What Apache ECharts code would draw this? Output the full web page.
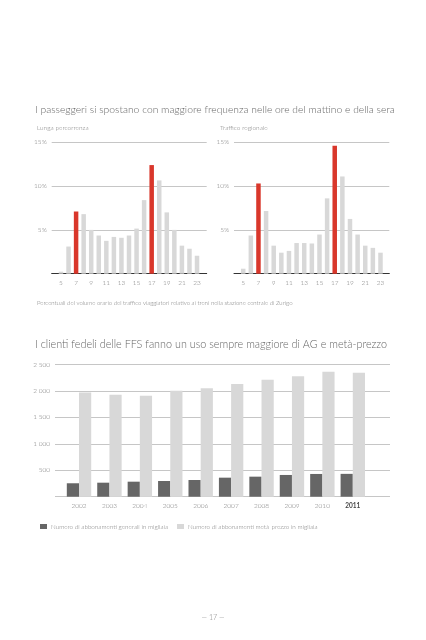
<!DOCTYPE html>
<html>
<head>
<meta charset="utf-8">
<script src="https://cdn.jsdelivr.net/npm/echarts@6/dist/echarts.min.js"></script>
<style>
html,body{margin:0;padding:0;background:#fff;}
#c{width:426px;height:640px;}
</style>
</head>
<body>
<div id="c"></div>
<script>
// ---- data ----
var hours = ['5','6','7','8','9','10','11','12','13','14','15','16','17','18','19','20','21','22','23'];
var highlightHours = ['7','17'];
var lungaPercorrenza = [0.23,3.1,7.1,6.8,5.0,4.36,3.75,4.2,4.1,4.36,5.15,8.4,12.4,10.65,7.0,5.0,3.2,2.85,2.05];
var trafficoRegionale = [0.57,4.36,10.3,7.16,3.2,2.4,2.6,3.5,3.5,3.45,4.47,8.6,14.6,11.1,6.25,4.47,3.2,2.95,2.4];
var pctTicks = [0,5,10,15];
var years = ['2002','2003','2004','2005','2006','2007','2008','2009','2010','2011'];
var abbGenerali = [254,265,284,297,316,360,379,411,430,432];
var abbMetaPrezzo = [1970,1926,1907,2002,2053,2129,2210,2280,2362,2343];
var countTicks = [0,500,1000,1500,2000,2500];

var FONT = 'Lato';
var TXT = '#7d7d7d';
var RED = '#d9372b';
var LIGHT = '#d8d8d8';
var DARK = '#666666';
var GRIDLINE = '#b8b8b8';

function colored(vals) {
  return vals.map(function (v, i) {
    var hi = highlightHours.indexOf(hours[i]) >= 0;
    return { value: v, itemStyle: { color: hi ? RED : LIGHT } };
  });
}

var chart = echarts.init(document.getElementById('c'), null, { renderer: 'canvas' });

var topY = { top: 142.3, bottom: 640 - 273.7 };
var botY = { top: 364.5, bottom: 640 - 496.7 };

function frameY(gridIndex, max, step, fmt) {
  return {
    type: 'value', gridIndex: gridIndex, min: 0, max: max, interval: step,
    axisLine: { show: false }, axisTick: { show: false },
    splitLine: { show: true, lineStyle: { color: GRIDLINE, width: 0.8 } },
    axisLabel: { show: true, color: TXT, fontFamily: FONT, fontWeight: 300, fontSize: 6.5, margin: 5,
      formatter: fmt }
  };
}
function hiddenY(gridIndex, max, step) {
  return { type: 'value', gridIndex: gridIndex, min: 0, max: max, interval: step, show: false };
}
function frameX(gridIndex, showLine) {
  return {
    type: 'value', gridIndex: gridIndex, min: 0, max: 1,
    axisLine: { show: showLine, onZero: false, lineStyle: { color: '#333', width: 1 } },
    axisTick: { show: false }, axisLabel: { show: false }, splitLine: { show: false }
  };
}
function catX(gridIndex, cats, opts) {
  return Object.assign({
    type: 'category', gridIndex: gridIndex, data: cats, boundaryGap: true,
    axisLine: { show: false }, axisTick: { show: false }, splitLine: { show: false }
  }, opts);
}

var pctFmt = function (v) { return v === 0 ? '' : v + '%'; };
var numFmt = function (v) { return v === 0 ? '' : (v >= 1000 ? String(v).replace(/(\d)(\d{3})$/, '$1 $2') : String(v)); };

var option = {
  backgroundColor: '#fff',
  animation: false,
  textStyle: { fontFamily: FONT },
  title: [
    { text: 'I passeggeri si spostano con maggiore frequenza nelle ore del mattino e della sera',
      left: 30, top: 99.5, textStyle: { fontFamily: FONT, fontWeight: 300, fontSize: 10.3, color: '#666' } },
    { text: 'Lunga percorrenza', left: 32, top: 119.5,
      textStyle: { fontFamily: FONT, fontWeight: 300, fontSize: 6.5, color: TXT } },
    { text: 'Traffico regionale', left: 215, top: 119.5,
      textStyle: { fontFamily: FONT, fontWeight: 300, fontSize: 6.5, color: TXT } },
    { text: 'Percentuali del volume orario del traffico viaggiatori relativo ai treni nella stazione centrale di Zurigo',
      left: 32, top: 295.5, textStyle: { fontFamily: FONT, fontWeight: 300, fontSize: 6, color: TXT } },
    { text: 'I clienti fedeli delle FFS fanno un uso sempre maggiore di AG e metà-prezzo',
      left: 30, top: 334, textStyle: { fontFamily: FONT, fontWeight: 300, fontSize: 10.8, color: '#666' } },
    { text: '— 17 —', left: 'center', top: 609,
      textStyle: { fontFamily: FONT, fontWeight: 300, fontSize: 7, color: TXT } }
  ],
  legend: {
    left: 35, top: 518.5, itemWidth: 7, itemHeight: 5, itemGap: 9, icon: 'rect',
    textStyle: { fontFamily: FONT, fontWeight: 300, fontSize: 6.3, color: TXT, padding: [0, 0, 0, -1] },
    data: ['Numero di abbonamenti generali in migliaia', 'Numero di abbonamenti metà-prezzo in migliaia']
  },
  grid: [
    { left: 51.7, right: 426 - 206.7, top: topY.top, bottom: topY.bottom },
    { left: 57.2, width: 143.6, top: topY.top, bottom: topY.bottom },
    { left: 234, right: 426 - 389.3, top: topY.top, bottom: topY.bottom },
    { left: 239.4, width: 144.9, top: topY.top, bottom: topY.bottom },
    { left: 55, right: 36, top: botY.top, bottom: botY.bottom },
    { left: 63.8, width: 304.2, top: botY.top, bottom: botY.bottom }
  ],
  xAxis: [
    frameX(0, true),
    catX(1, hours, { axisLabel: { interval: 1, color: TXT, fontFamily: FONT, fontWeight: 300, fontSize: 6.5, margin: 6 } }),
    frameX(2, true),
    catX(3, hours, { axisLabel: { interval: 1, color: TXT, fontFamily: FONT, fontWeight: 300, fontSize: 6.5, margin: 6 } }),
    frameX(4, false),
    catX(5, years, { axisLabel: { interval: 0, color: TXT, fontFamily: FONT, fontWeight: 300, fontSize: 6.5, margin: 6,
      formatter: function (v) { return v === years[years.length - 1] ? '{b|' + v + '}' : v; },
      rich: { b: { fontWeight: 'bold', color: '#444', fontFamily: FONT, fontSize: 6.5 } } } })
  ],
  yAxis: [
    frameY(0, 15, 5, pctFmt),
    hiddenY(1, 15, 5),
    frameY(2, 15, 5, pctFmt),
    hiddenY(3, 15, 5),
    frameY(4, 2500, 500, numFmt),
    hiddenY(5, 2500, 500)
  ],
  series: [
    { type: 'bar', xAxisIndex: 1, yAxisIndex: 1, barWidth: 4.5, data: colored(lungaPercorrenza) },
    { type: 'bar', xAxisIndex: 3, yAxisIndex: 3, barWidth: 4.5, data: colored(trafficoRegionale) },
    { type: 'bar', name: 'Numero di abbonamenti generali in migliaia', xAxisIndex: 5, yAxisIndex: 5,
      barWidth: 12.2, barGap: '0%', itemStyle: { color: DARK }, data: abbGenerali },
    { type: 'bar', name: 'Numero di abbonamenti metà-prezzo in migliaia', xAxisIndex: 5, yAxisIndex: 5,
      barWidth: 12.2, barGap: '0%', itemStyle: { color: LIGHT }, data: abbMetaPrezzo }
  ]
};
chart.setOption(option);
</script>
</body>
</html>
